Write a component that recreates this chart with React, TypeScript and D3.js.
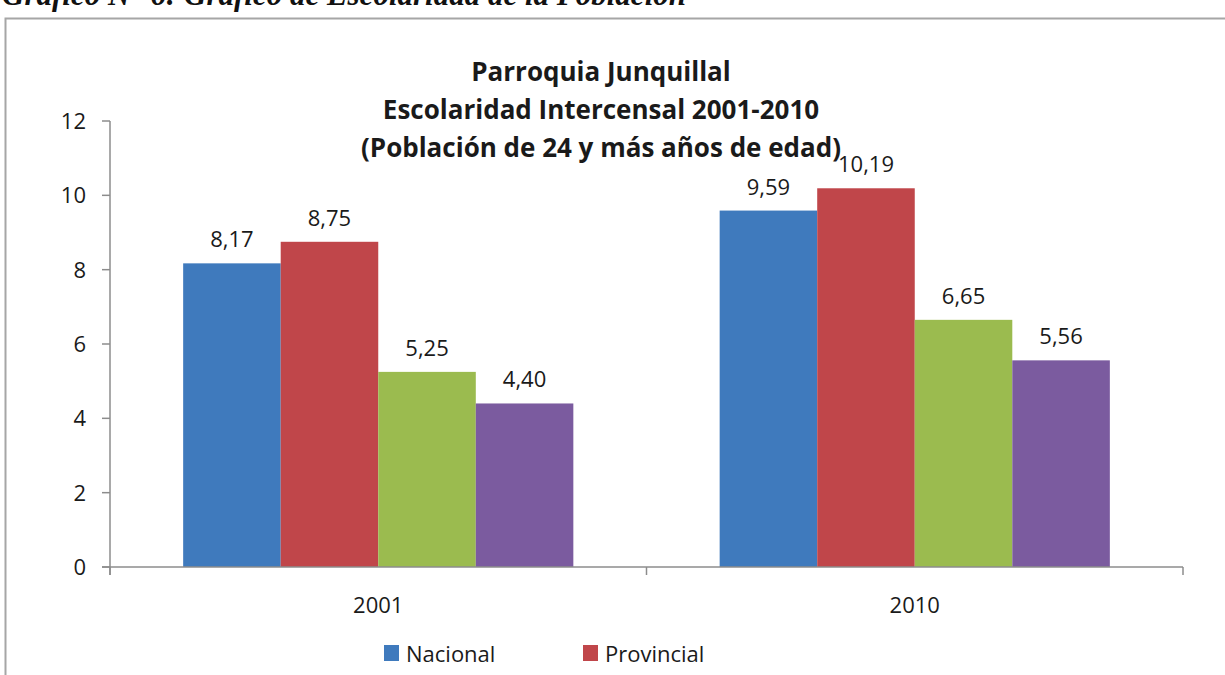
import React, { useRef, useEffect } from "react";
import * as d3 from "d3";

const years = ["2001", "2010"];
const seriesNames = ["Nacional", "Provincial", "Cantonal", "Parroquial"];
const nacional = [8.17, 9.59];
const provincial = [8.75, 10.19];
const cantonal = [5.25, 6.65];
const parroquial = [4.4, 5.56];
const colors = ["#3f7abd", "#c0464a", "#9bbb4f", "#7b5b9f"];
const yTicks = [0, 2, 4, 6, 8, 10, 12];
// only the first two legend entries are visible in the picture
const legendShown = ["Nacional", "Provincial"];
const titleLines = [
  "Parroquia Junquillal",
  "Escolaridad Intercensal 2001-2010",
  "(Población de 24 y más años de edad)",
];
const caption = "Gráfico N° 6: Gráfico de Escolaridad de la Población";

const FONT = "'Open Sans', 'Noto Sans', sans-serif";
const LABEL_SIZE = 22;

function BarChart() {
  const ref = useRef<SVGSVGElement | null>(null);

  useEffect(() => {
    const svg = d3.select(ref.current);
    svg.selectAll("*").remove();

    const width = 1225;
    const height = 675;
    const left = 110;
    const right = 1183;
    const top = 121;
    const bottom = 567;

    const values = [nacional, provincial, cantonal, parroquial];

    // caption cut by the top edge of the picture
    svg
      .append("text")
      .attr("x", 2)
      .attr("y", 5)
      .attr("font-family", "'Liberation Serif', serif")
      .attr("font-style", "italic")
      .attr("font-weight", "bold")
      .attr("font-size", 31)
      .attr("fill", "#111")
      .text(caption);

    // frame
    svg
      .append("rect")
      .attr("x", 5.5)
      .attr("y", 18.5)
      .attr("width", width)
      .attr("height", height)
      .attr("fill", "none")
      .attr("stroke", "#a6a6a6")
      .attr("stroke-width", 2);

    const x0 = d3.scaleBand().domain(years).range([left, right]);
    const gap = x0.bandwidth() * (1.5 / 5.5) / 2;
    const x1 = d3
      .scaleBand()
      .domain(seriesNames)
      .range([gap, x0.bandwidth() - gap]);
    const y = d3.scaleLinear().domain([0, 12]).range([bottom, top]);

    // y axis
    const yAxis = svg.append("g").attr("transform", `translate(${left},0)`);
    yAxis
      .append("line")
      .attr("x1", 0)
      .attr("x2", 0)
      .attr("y1", top)
      .attr("y2", bottom + 8)
      .attr("stroke", "#8c8c8c")
      .attr("stroke-width", 1.5);
    yAxis
      .selectAll("line.tick")
      .data(yTicks)
      .join("line")
      .attr("class", "tick")
      .attr("x1", -8)
      .attr("x2", 0)
      .attr("y1", (d) => y(d))
      .attr("y2", (d) => y(d))
      .attr("stroke", "#8c8c8c")
      .attr("stroke-width", 1.5);
    yAxis
      .selectAll("text")
      .data(yTicks)
      .join("text")
      .attr("x", -24)
      .attr("y", (d) => y(d))
      .attr("dy", "0.36em")
      .attr("text-anchor", "end")
      .attr("font-family", FONT)
      .attr("font-size", LABEL_SIZE)
      .attr("fill", "#1a1a1a")
      .text((d) => String(d));

    // bars
    years.forEach((yr, i) => {
      const g = svg.append("g").attr("transform", `translate(${x0(yr)},0)`);
      g.selectAll("rect")
        .data(seriesNames)
        .join("rect")
        .attr("x", (s) => x1(s)!)
        .attr("y", (s, k) => y(values[k][i]))
        .attr("width", x1.bandwidth())
        .attr("height", (s, k) => bottom - y(values[k][i]))
        .attr("fill", (s, k) => colors[k]);
      g.selectAll("text")
        .data(seriesNames)
        .join("text")
        .attr("x", (s) => x1(s)! + x1.bandwidth() / 2)
        .attr("y", (s, k) => y(values[k][i]) - 16)
        .attr("text-anchor", "middle")
        .attr("font-family", FONT)
        .attr("font-size", LABEL_SIZE)
        .attr("fill", "#1a1a1a")
        .text((s, k) => values[k][i].toFixed(2).replace(".", ","));
    });

    // x axis
    const xAxis = svg.append("g");
    xAxis
      .append("line")
      .attr("x1", left - 8)
      .attr("x2", right)
      .attr("y1", bottom)
      .attr("y2", bottom)
      .attr("stroke", "#8c8c8c")
      .attr("stroke-width", 1.5);
    const edges = [left, ...years.map((yr) => x0(yr)! + x0.bandwidth())];
    xAxis
      .selectAll("line.tick")
      .data(edges)
      .join("line")
      .attr("class", "tick")
      .attr("x1", (d) => d)
      .attr("x2", (d) => d)
      .attr("y1", bottom)
      .attr("y2", bottom + 8)
      .attr("stroke", "#8c8c8c")
      .attr("stroke-width", 1.5);
    xAxis
      .selectAll("text")
      .data(years)
      .join("text")
      .attr("x", (d) => x0(d)! + x0.bandwidth() / 2)
      .attr("y", 613)
      .attr("text-anchor", "middle")
      .attr("font-family", FONT)
      .attr("font-size", LABEL_SIZE)
      .attr("fill", "#1a1a1a")
      .text((d) => d);

    // title
    svg
      .append("g")
      .selectAll("text")
      .data(titleLines)
      .join("text")
      .attr("x", 601)
      .attr("y", (d, i) => 81 + i * 38)
      .attr("text-anchor", "middle")
      .attr("font-family", FONT)
      .attr("font-weight", "bold")
      .attr("font-size", 26)
      .attr("fill", "#1a1a1a")
      .text((d) => d);

    // legend
    const legendX = [384, 583];
    const lg = svg
      .append("g")
      .selectAll("g")
      .data(legendShown)
      .join("g")
      .attr("transform", (d, i) => `translate(${legendX[i]},645)`);
    lg.append("rect")
      .attr("width", 15)
      .attr("height", 16)
      .attr("fill", (d) => colors[seriesNames.indexOf(d)]);
    lg.append("text")
      .attr("x", 22)
      .attr("y", 17)
      .attr("font-family", FONT)
      .attr("font-size", LABEL_SIZE)
      .attr("fill", "#1a1a1a")
      .text((d) => d);
  }, []);

  return (
    <svg
      ref={ref}
      width={1225}
      height={675}
      style={{ position: "absolute", left: 0, top: 0, background: "#fff" }}
    />
  );
}

export default function App() {
  return <BarChart />;
}
